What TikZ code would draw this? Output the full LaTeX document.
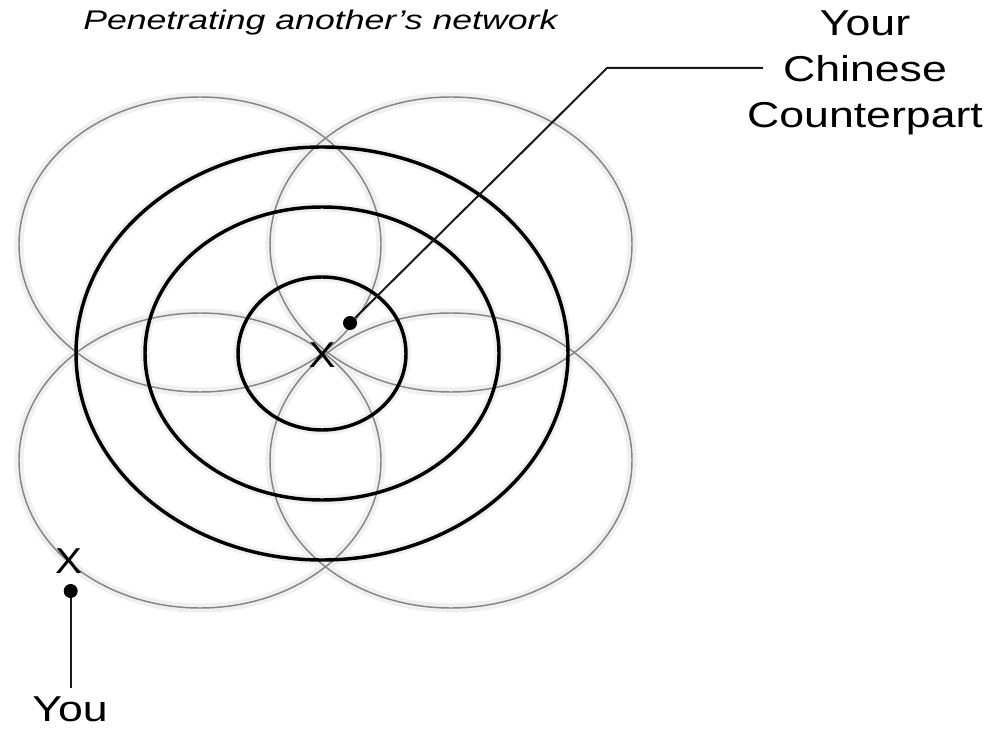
\documentclass[tikz,border=0pt]{standalone}
\usepackage{fontspec}
\setmainfont{Liberation Sans}
\usepackage{graphicx}
\usetikzlibrary{positioning}

\newcommand{\widen}[1]{\scalebox{1.24}[1]{#1}}
\newcommand{\widenit}[1]{\scalebox{1.32}[1]{\itshape #1}}

\begin{document}
\begin{tikzpicture}[
  x=0.75pt, y=-0.75pt,
  lbl/.style={font=\fontsize{27pt}{34.5pt}\selectfont, inner sep=0pt, align=center},
  sub/.style={font=\fontsize{20.25pt}{24pt}\selectfont, inner sep=0pt},
  xmark/.style={font=\fontsize{27pt}{30pt}\selectfont, inner sep=0pt},
  dot/.style={circle, fill=black, inner sep=0pt, minimum size=10.5pt},
  halo/.style={draw=black!6, line width=7pt},
  net/.style={draw=black!48, line width=1.1pt},
  ring/.style={draw=black, line width=2.6pt},
  ln/.style={draw=black!90, line width=1.5pt}
]
\useasboundingbox (0,0) rectangle (994,730);

% soft shadows under all rings
\foreach \cx/\cy in {200/244.5, 451/244.5, 200/460.5, 451/460.5}
  \draw[halo] (\cx,\cy) ellipse [x radius=181, y radius=147.5];
\foreach \rx/\ry in {84/76.5, 177/146.5, 246/206.5}
  \draw[halo] (322,353.5) ellipse [x radius=\rx, y radius=\ry];

% the four overlapping networks
\foreach \cx/\cy in {200/244.5, 451/244.5, 200/460.5, 451/460.5}
  \draw[net] (\cx,\cy) ellipse [x radius=181, y radius=147.5];

% concentric rings round the counterpart
\foreach \rx/\ry in {84/76.5, 177/146.5, 246/206.5}
  \draw[ring] (322,353.5) ellipse [x radius=\rx, y radius=\ry];

\node[sub, anchor=base west] (sub) at (83,29.3) {\widenit{Penetrating another's network}};
\node[lbl, anchor=north] (cpt) at (865,10) {\widen{Your}\\\widen{Chinese}\\\widen{Counterpart}};
\node[lbl, anchor=base] (you) at (70,721) {\widen{You}};

\node[xmark] (xcpt) at (322,355) {\scalebox{1.12}[1]{X}};
\node[xmark] (xyou) at (68.5,561) {\scalebox{1.12}[1]{X}};

\node[dot] (cdot) at (350,323) {};
\node[dot] (ydot) at (70.7,591) {};

\coordinate (bend) at (607,68);
\coordinate (cend) at (763,68);
\coordinate (yend) at (70.7,688);

\draw[ln] (cdot) -- (bend) -- (cend);
\draw[ln] (ydot) -- (yend);
\end{tikzpicture}
\end{document}
